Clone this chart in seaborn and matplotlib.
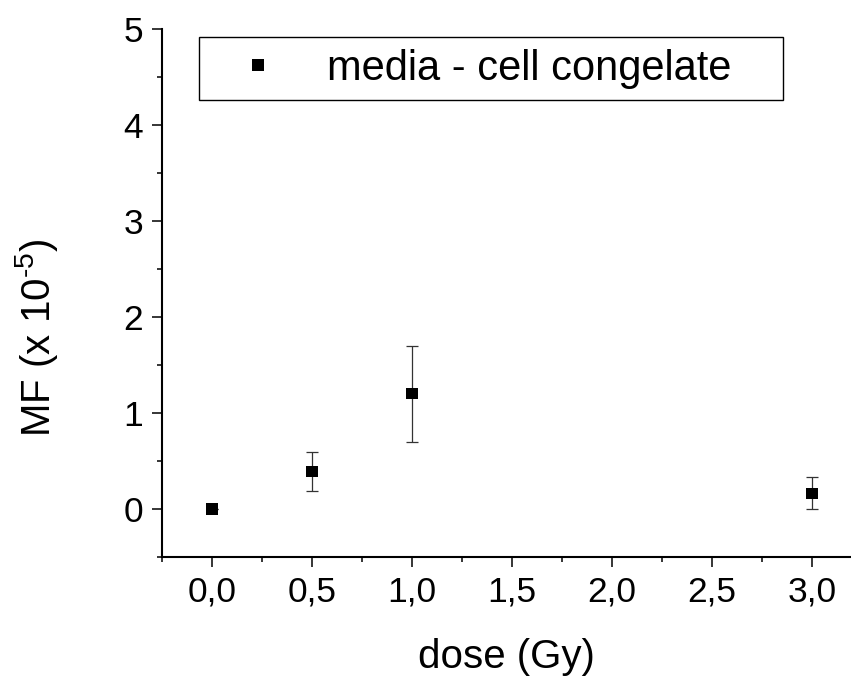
import pandas as pd
import seaborn as sns
import matplotlib.pyplot as plt
from matplotlib.ticker import MultipleLocator

# data
dose = [0.0, 0.5, 1.0, 3.0]
mf = [0.0, 0.39, 1.2, 0.165]
mf_err = [0.0, 0.205, 0.5, 0.165]
series_name = 'media - cell congelate'
x_ticks = [0.0, 0.5, 1.0, 1.5, 2.0, 2.5, 3.0]
x_ticklabels = ['0,0', '0,5', '1,0', '1,5', '2,0', '2,5', '3,0']
y_ticks = [0, 1, 2, 3, 4, 5]

df = pd.DataFrame({'dose': dose, 'MF': mf, 'err': mf_err, 'serie': series_name})

sns.set_style('ticks')
plt.rcParams['font.family'] = ['Liberation Sans', 'DejaVu Sans']
plt.rcParams['mathtext.fontset'] = 'custom'
plt.rcParams['mathtext.rm'] = 'Liberation Sans'
plt.rcParams['text.color'] = 'black'
plt.rcParams['axes.labelcolor'] = 'black'

fig = plt.figure(figsize=(8.51, 6.78), dpi=100)
W, H = 851, 678
ax = fig.add_axes([162 / W, 1 - 557 / H, (W - 162) / W, (557 - 29) / H])

# error bars first, markers on top
ax.errorbar(df['dose'], df['MF'], yerr=df['err'], fmt='none',
            ecolor='#333333', elinewidth=0.9, capsize=4, capthick=0.9, zorder=2)
sns.scatterplot(data=df, x='dose', y='MF', hue='serie', palette=['black'],
                marker='s', s=64, edgecolor='black', linewidth=0, ax=ax, zorder=3)

ax.set_xlim(-0.25, 3.195)
ax.set_ylim(-0.5, 5)
ax.set_xticks(x_ticks)
ax.set_xticklabels(x_ticklabels)
ax.set_yticks(y_ticks)
ax.xaxis.set_minor_locator(MultipleLocator(0.25))
ax.yaxis.set_minor_locator(MultipleLocator(0.5))
ax.tick_params(which='major', direction='out', length=7.5, width=1.1,
               labelsize=25.5, colors='black', pad=6)
ax.tick_params(which='minor', direction='out', length=3.7, width=1.1, colors='black')
sns.despine(ax=ax)
for side in ['left', 'bottom']:
    ax.spines[side].set_linewidth(1.5)
    ax.spines[side].set_color('black')

ax.set_xlabel('dose (Gy)', fontsize=29)
ax.xaxis.set_label_coords(0.5, (557 - 657) / 528)
ax.xaxis.label.set_verticalalignment('center')
ax.set_ylabel(r'MF (x 10$^{\text{-5}}$)', fontsize=29)
ax.yaxis.set_label_coords((37 - 162) / 689, (557 - 338) / 528)
ax.yaxis.label.set_verticalalignment('center')

ax.legend(loc='upper left', mode='expand',
          bbox_to_anchor=(199 / W, 1 - 102 / H, (783 - 199) / W, 65 / H),
          bbox_transform=fig.transFigure, borderaxespad=0, borderpad=0.28,
          handlelength=2.27, handletextpad=0.52, fontsize=30, markerscale=1,
          fancybox=False, frameon=True, edgecolor='black', framealpha=1,
          title=None)
leg = ax.get_legend()
leg.get_frame().set_linewidth(1.0)
for t in leg.get_texts():
    t.set_color('black')

fig.savefig('out.png', dpi=100)
